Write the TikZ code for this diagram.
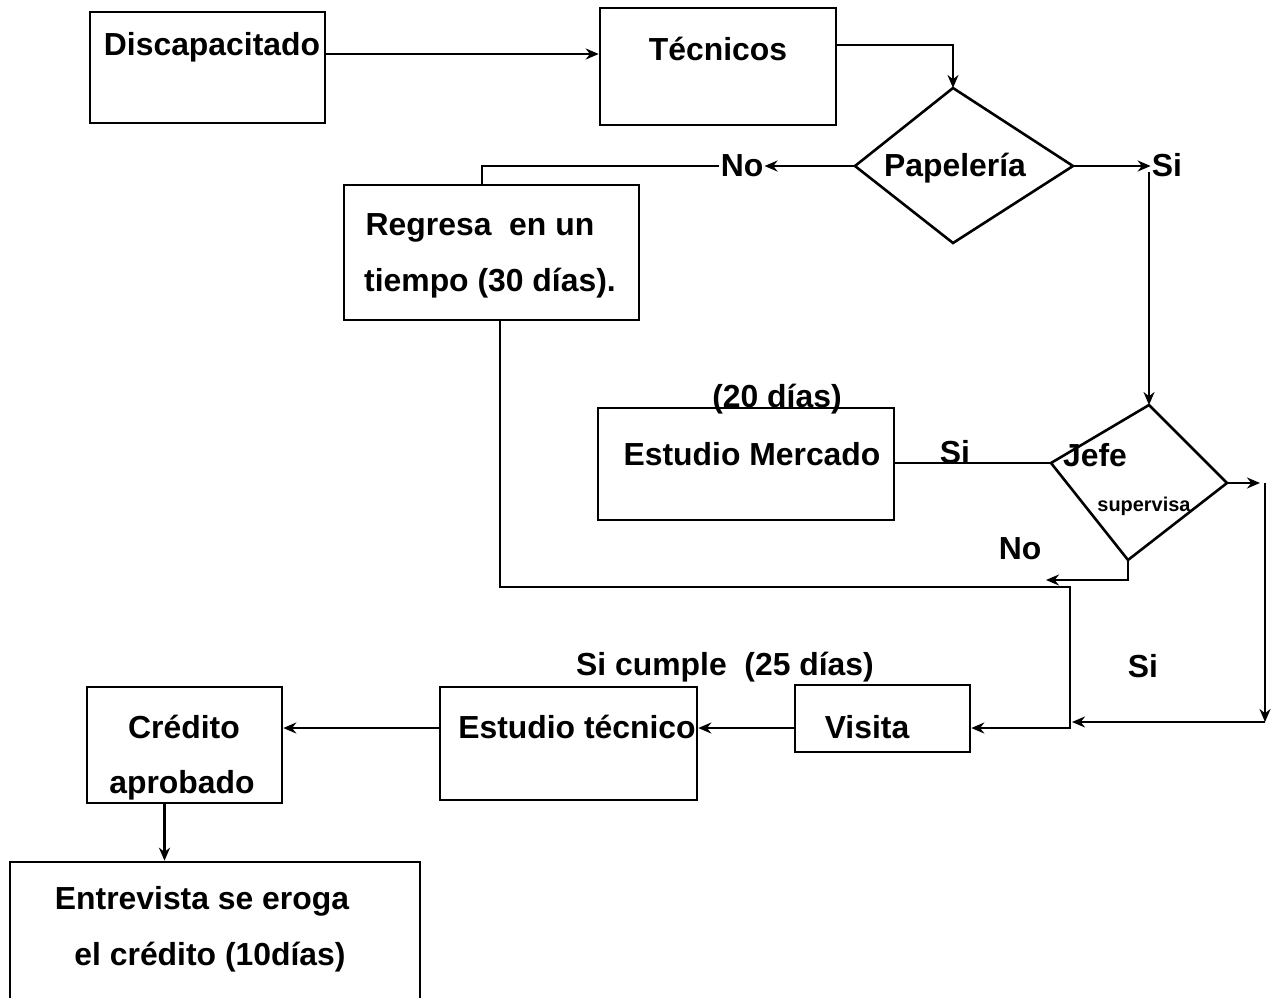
\documentclass[tikz,border=0pt]{standalone}
\usepackage{fontspec}
\setmainfont{Liberation Sans}
\usetikzlibrary{arrows.meta,calc}
\begin{document}
\begin{tikzpicture}[x=1bp,y=-1bp,
  line width=2.6bp,
  box/.style={draw,inner sep=0pt,minimum width=#1},
  txt/.style={font=\fontsize{32}{38}\selectfont\bfseries,inner sep=0pt,anchor=base},
  small/.style={font=\fontsize{20}{24}\selectfont\bfseries,inner sep=0pt,anchor=base},
  arr/.style={-{Stealth[length=13bp,width=11bp]}}]
\useasboundingbox (0,0) rectangle (1271,998);
% boxes
\node[box=235bp,minimum height=111bp] (disc) at (207.5,67.5) {};
\node[box=236bp,minimum height=117bp] (tec) at (718,66.5) {};
\node[box=295bp,minimum height=135bp] (reg) at (491.5,252.5) {};
\node[box=296bp,minimum height=112bp] (mer) at (746,464) {};
\node[box=175bp,minimum height=67bp] (vis) at (882.5,718.5) {};
\node[box=257bp,minimum height=113bp] (est) at (568.5,743.5) {};
\node[box=195bp,minimum height=116bp] (cred) at (184.5,745) {};
\node[box=410bp,minimum height=150bp] (ent) at (215,937) {};
% diamonds
\coordinate (pT) at (953,88);
\coordinate (pL) at (855,166);
\coordinate (pR) at (1073,166);
\coordinate (pB) at (953,243);
\draw (pT) -- (pR) -- (pB) -- (pL) -- cycle;
\coordinate (jT) at (1149,405);
\coordinate (jL) at (1051,463);
\coordinate (jR) at (1227,483);
\coordinate (jB) at (1128,560);
\draw (jT) -- (jR) -- (jB) -- (jL) -- cycle;
% texts
\node[txt] (tdisc) at (212,55) {Discapacitado};
\node[txt] (ttec) at (718,60) {Técnicos};
\node[txt] (tpap) at (955,176) {Papelería};
\node[txt] (treg1) at (480,235) {Regresa\ \ en un};
\node[txt] (treg2) at (490,291) {tiempo (30 días).};
\node[txt] (tmer) at (752,465) {Estudio Mercado};
\node[txt] (t20) at (777,407) {(20 días)};
\node[txt] (tjefe) at (1095,466) {Jefe};
\node[small] (tsup) at (1144,511) {supervisa};
\node[txt] (tvis) at (867,738) {Visita};
\node[txt] (test) at (577,738) {Estudio técnico};
\node[txt] (tcred1) at (184,738) {Crédito};
\node[txt] (tcred2) at (182,793) {aprobado};
\node[txt] (tent1) at (202,909) {Entrevista se eroga};
\node[txt] (tent2) at (210,965) {el crédito (10días)};
% labels
\node[txt] (no1) at (742,176) {No};
\node[txt] (si1) at (1167,176) {Si};
\node[txt] (si2) at (955,463) {Si};
\node[txt] (no2) at (1020,559) {No};
\node[txt] (si3) at (1143,677) {Si};
\node[txt] (scum) at (725,675) {Si cumple\ \ (25 días)};
% helper coordinates
\coordinate (c1) at (953,45);
\coordinate (c2) at (482,185);
\coordinate (c3) at (1149,172);
\coordinate (c4) at (1260,483);
\coordinate (c5) at (1265,722);
\coordinate (c6) at (1072,722);
\coordinate (c7) at (1046,580);
\coordinate (c8) at (500,587);
\coordinate (c9) at (1070,587);
\coordinate (c10) at (1070,728);
% connectors
\draw[arr] (disc.east |- 0,54) -- (tec.west |- 0,54);
\draw[arr] (tec.east |- c1) -- (c1) -- (pT);
\draw[arr] (pL) -- (no1.east |- pL);
\draw (no1.west |- pL) -| (c2);
\draw[arr] (pR) -- (si1.west |- pR);
\draw[arr] (c3) -- (jT);
\draw (mer.east |- jL) -- (jL);
\draw[arr] (jR) -- (c4);
\draw[arr] (c4 -| c5) -- (c5);
\draw[arr] (c5) -- (c6);
\draw[arr] (jB) |- (c7);
\draw[arr] (reg.south -| c8) -- (c8) -- (c9) -- (c10) -- (vis.east |- c10);
\draw[arr] (vis.west |- c10) -- (est.east |- c10);
\draw[arr] (est.west |- c10) -- (cred.east |- c10);
\draw[arr] ([xshift=-20bp]cred.south) -- ([xshift=-20bp]cred.south |- ent.north);
\end{tikzpicture}
\end{document}
